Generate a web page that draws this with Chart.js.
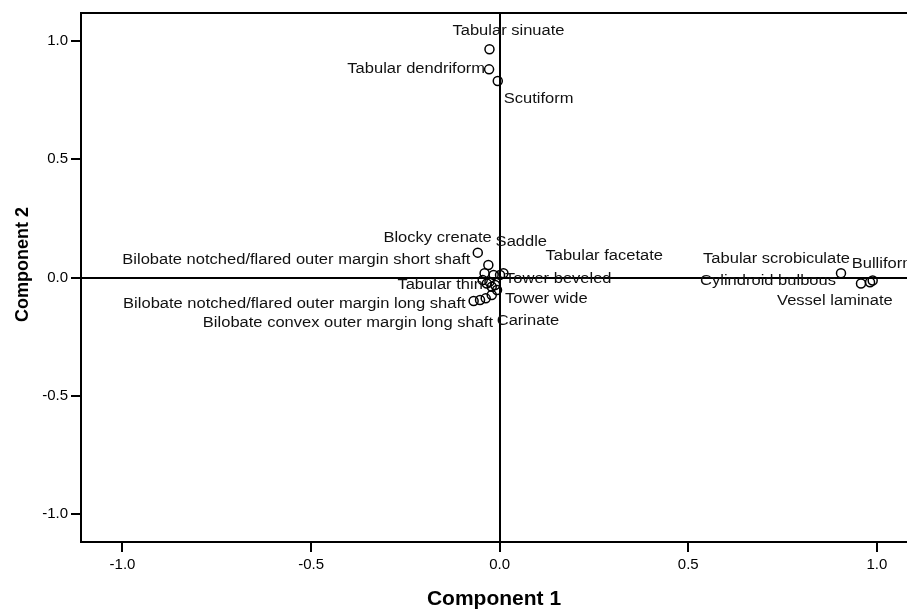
<!DOCTYPE html>
<html>
<head>
<meta charset="utf-8">
<title>Component plot</title>
<script src="https://cdn.jsdelivr.net/npm/chart.js@4/dist/chart.umd.min.js"></script>
<style>
  html, body { margin: 0; padding: 0; background: #fff; }
  #plot { display: block; }
</style>
</head>
<body>
<canvas id="plot" width="907" height="612"></canvas>
<script>
/* ==========================================================
   DATA
   ==========================================================*/
const names = [
  "Tabular sinuate", "Tabular dendriform", "Scutiform",
  "Blocky crenate", "Bilobate notched/flared outer margin short shaft", "",
  "Tower beveled", "Tabular facetate", "Saddle",
  "", "Tabular thin", "", "",
  "Bilobate notched/flared outer margin long shaft",
  "Bilobate convex outer margin long shaft", "",
  "Carinate", "Tower wide", "",
  "Tabular scrobiculate", "Cylindroid bulbous", "Vessel laminate", "Bulliform",
];
const comp1 = [
  -0.027, -0.028, -0.005,
  -0.058, -0.030, -0.040,
  0.001, 0.010, -0.016,
  -0.027, -0.034, -0.021, -0.012,
  -0.069,
  -0.052, -0.037,
  -0.021, -0.007, -0.045,
  0.905, 0.958, 0.982, 0.989,
];
const comp2 = [
  0.964, 0.879, 0.830,
  0.105, 0.053, 0.018,
  0.011, 0.018, 0.011,
  -0.018, -0.025, -0.039, -0.032,
  -0.099,
  -0.095, -0.088,
  -0.074, -0.053, -0.011,
  0.018, -0.025, -0.020, -0.013,
];
const xTicks = [-1.0, -0.5, 0.0, 0.5, 1.0];
const yTicks = [-1.0, -0.5, 0.0, 0.5, 1.0];
const xTitle = "Component 1";
const yTitle = "Component 2";

// label placement next to each point (pixels, text anchor)
const labelDx = [-37, -4, 6, 14, -18, 0, 5, 42, 2, 0, -4, 0, 0, -8, 13, 0, 5, 8, 0, 9, -25, -93, -21];
const labelDy = [-18, 0, 18, -14, -5, 0, 4, -17, -33, 0, 2, 0, 0, 3, 23, 0, 26, 9, 0, -14, -2, 19, -16];
const labelAlign = [
  "left", "right", "left", "right", "right", "left",
  "left", "left", "left", "left", "right", "left", "left",
  "right", "right", "left", "left", "left", "left",
  "right", "right", "left", "left",
];

const FONT = "'Liberation Sans', Arial, sans-serif";

/* ==========================================================
   PLUGINS: frame top line, y title, point labels
   ==========================================================*/
const frameTop = {
  id: "frameTop",
  afterDraw(chart) {
    const { ctx, chartArea } = chart;
    ctx.save();
    ctx.strokeStyle = "#000";
    ctx.lineWidth = 2;
    ctx.beginPath();
    ctx.moveTo(chartArea.left - 1, chartArea.top);
    ctx.lineTo(chartArea.right, chartArea.top);
    ctx.stroke();

    // y axis title (sits a little above the axis middle in the original)
    ctx.translate(23, (chartArea.top + chartArea.bottom) / 2 - 13);
    ctx.rotate(-Math.PI / 2);
    ctx.fillStyle = "#000";
    ctx.font = "bold 18px " + FONT;
    ctx.textAlign = "center";
    ctx.textBaseline = "middle";
    ctx.fillText(yTitle, 0, 0);
    ctx.restore();
  },
};

const pointLabels = {
  id: "pointLabels",
  afterDatasetsDraw(chart) {
    const { ctx } = chart;
    const meta = chart.getDatasetMeta(0);
    ctx.save();
    ctx.fillStyle = "#111";
    ctx.font = "14px " + FONT;
    ctx.textBaseline = "middle";
    meta.data.forEach((pt, i) => {
      if (!names[i]) return;
      ctx.save();
      ctx.translate(pt.x + labelDx[i], pt.y + labelDy[i]);
      ctx.scale(1.18, 1);
      ctx.textAlign = labelAlign[i];
      ctx.fillText(names[i], 0, 0);
      ctx.restore();
    });
    ctx.restore();
  },
};

/* ==========================================================
   CHART
   ==========================================================*/
const zeroLine = (c) => (c.tick && c.tick.value === 0 ? "#000" : "rgba(0,0,0,0)");

new Chart(document.getElementById("plot"), {
  type: "scatter",
  data: {
    datasets: [
      {
        label: "Loadings",
        data: comp1.map((x, i) => ({ x, y: comp2[i] })),
        pointRadius: 4.5,
        pointHoverRadius: 4.5,
        borderWidth: 1.5,
        borderColor: "#000",
        backgroundColor: "rgba(0,0,0,0)",
      },
    ],
  },
  options: {
    responsive: false,
    animation: false,
    devicePixelRatio: 1,
    layout: { autoPadding: false, padding: { top: 13, right: 0, bottom: 0, left: 0 } },
    plugins: {
      legend: { display: false },
      tooltip: { enabled: false },
    },
    scales: {
      x: {
        type: "linear",
        min: -1.11,
        max: 1.08,
        afterFit: (s) => {
          s.height = 70;
          s.paddingLeft = 0;
          s.paddingRight = 0;
        },
        afterBuildTicks: (s) => { s.ticks = xTicks.map((v) => ({ value: v })); },
        ticks: {
          color: "#000",
          padding: 4,
          font: { family: FONT, size: 15 },
          callback: (v) => Number(v).toFixed(1),
        },
        grid: { color: zeroLine, lineWidth: 2, tickColor: "#000", tickLength: 10, tickWidth: 2 },
        border: { display: true, color: "#000", width: 2 },
        title: {
          display: true,
          text: xTitle,
          color: "#000",
          font: { family: FONT, size: 21, weight: "bold" },
          padding: { top: 0, bottom: 0 },
        },
      },
      y: {
        type: "linear",
        min: -1.117,
        max: 1.117,
        afterFit: (s) => {
          s.width = 81;
          s.paddingTop = 0;
          s.paddingBottom = 0;
        },
        afterBuildTicks: (s) => { s.ticks = yTicks.map((v) => ({ value: v })); },
        ticks: {
          color: "#000",
          padding: 3,
          font: { family: FONT, size: 15 },
          callback: (v) => Number(v).toFixed(1),
        },
        grid: { color: zeroLine, lineWidth: 2, tickColor: "#000", tickLength: 10, tickWidth: 2 },
        border: { display: true, color: "#000", width: 2 },
      },
    },
  },
  plugins: [frameTop, pointLabels],
});
</script>
</body>
</html>
